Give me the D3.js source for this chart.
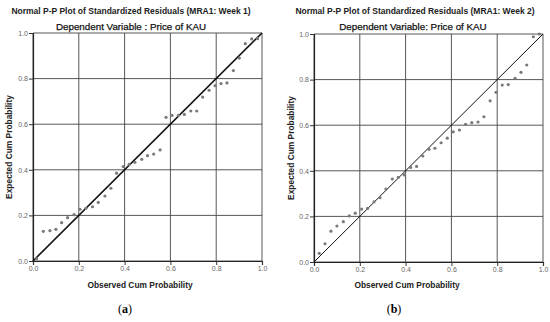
<!DOCTYPE html>
<html lang="en">
<head>
<meta charset="utf-8">
<title>P-P plots</title>
<script src="https://d3js.org/d3.v7.min.js"></script>
<style>
  body { margin: 0; background: #fff; }
  svg { display: block; }
  .tick text { font-family: "Liberation Sans", Arial, sans-serif; font-size: 7px; fill: #666; }
</style>
</head>
<body>
<script>
// tick values shared by both panels
var ticks = [0, 0.2, 0.4, 0.6, 0.8, 1.0];

// panel (a): observed / expected cum probability
var obsA = [0.016,0.045,0.074,0.100,0.125,0.151,0.179,0.205,0.231,0.260,0.285,0.314,0.340,0.365,0.394,0.420,0.445,0.475,0.500,0.527,0.555,0.581,0.607,0.635,0.661,0.689,0.715,0.741,0.769,0.795,0.821,0.847,0.875,0.901,0.927,0.955,0.981];
var expA = [0.010,0.130,0.133,0.139,0.168,0.190,0.203,0.227,0.231,0.238,0.257,0.285,0.319,0.385,0.414,0.424,0.433,0.446,0.462,0.469,0.487,0.630,0.639,0.639,0.643,0.658,0.658,0.719,0.749,0.769,0.778,0.781,0.835,0.890,0.953,0.974,0.975];

// panel (b)
var obsB = [0.023,0.048,0.074,0.100,0.128,0.154,0.180,0.208,0.234,0.262,0.288,0.314,0.342,0.368,0.394,0.422,0.448,0.475,0.502,0.528,0.555,0.582,0.608,0.635,0.662,0.689,0.716,0.742,0.769,0.795,0.822,0.848,0.878,0.904,0.929,0.958,0.984];
var expB = [0.038,0.080,0.135,0.158,0.177,0.202,0.214,0.232,0.235,0.264,0.282,0.320,0.364,0.371,0.382,0.415,0.419,0.465,0.494,0.499,0.523,0.543,0.571,0.579,0.604,0.611,0.614,0.637,0.707,0.744,0.776,0.778,0.806,0.832,0.864,0.988,1.000];

var titles = ["Normal P-P Plot of Standardized Residuals (MRA1: Week 1)",
              "Normal P-P Plot of Standardized Residuals (MRA1: Week 2)"];
var subtitles = ["Dependent Variable : Price of KAU", "Dependent Variable: Price of KAU"];
var letters = ["a", "b"];

var svg = d3.select("body").append("svg")
    .attr("width", 550).attr("height", 322);

var font = "'Liberation Sans', Arial, sans-serif";

function panel(cfg) {
  var x = d3.scaleLinear().domain([0, 1]).range([cfg.x0, cfg.x1]);
  var y = d3.scaleLinear().domain([0, 1]).range([cfg.y0, cfg.y1]);
  var g = svg.append("g");

  // grid lines
  g.selectAll(".gx").data(ticks).enter().append("line")
    .attr("x1", d => x(d)).attr("x2", d => x(d))
    .attr("y1", y(0)).attr("y2", y(1))
    .attr("stroke", "#444").attr("stroke-width", 0.9);
  g.selectAll(".gy").data(ticks).enter().append("line")
    .attr("y1", d => y(d)).attr("y2", d => y(d))
    .attr("x1", x(0)).attr("x2", x(1))
    .attr("stroke", "#444").attr("stroke-width", 0.9);

  // axes
  var ax = g.append("g").attr("transform", "translate(0," + y(0) + ")")
    .call(d3.axisBottom(x).tickValues(ticks).tickFormat(d3.format(".1f")).tickSize(4).tickPadding(1));
  var ay = g.append("g").attr("transform", "translate(" + x(0) + ",0)")
    .call(d3.axisLeft(y).tickValues(ticks).tickFormat(d3.format(".1f")).tickSize(4).tickPadding(1));
  [ax, ay].forEach(function (a) {
    a.select(".domain").attr("stroke", "#222").attr("stroke-width", 1.2);
    a.selectAll(".tick line").attr("stroke", "#333");
  });

  // reference line
  g.append("line")
    .attr("x1", x(0)).attr("y1", y(0)).attr("x2", x(1)).attr("y2", y(1))
    .attr("stroke", "#111").attr("stroke-width", cfg.lw);

  // points
  g.selectAll("circle").data(cfg.obs).enter().append("circle")
    .attr("cx", d => x(d))
    .attr("cy", (d, i) => y(cfg.exp[i]))
    .attr("r", 1.6)
    .attr("fill", "#7a7a7a");

  // titles
  g.append("text").attr("x", cfg.tx).attr("y", 14)
    .attr("text-anchor", "middle").attr("font-family", font)
    .attr("font-size", "8.5px").attr("font-weight", "bold").attr("fill", "#222")
    .text(cfg.title);
  g.append("text").attr("x", cfg.sx).attr("y", 29.5)
    .attr("text-anchor", "middle").attr("font-family", font)
    .attr("font-size", "9.8px").attr("fill", "#111")
    .attr("stroke", "#111").attr("stroke-width", 0.25)
    .text(cfg.sub);

  // axis labels
  g.append("text").attr("x", cfg.lx).attr("y", 288)
    .attr("text-anchor", "middle").attr("font-family", font)
    .attr("font-size", "8.4px").attr("font-weight", "bold").attr("fill", "#222")
    .text("Observed Cum Probability");
  g.append("text")
    .attr("transform", "translate(" + cfg.ylx + "," + (y(0.5)) + ") rotate(-90)")
    .attr("text-anchor", "middle").attr("font-family", font)
    .attr("font-size", "8.4px").attr("font-weight", "bold").attr("fill", "#222")
    .text("Expected Cum Probability");

  // panel letter
  var t = g.append("text").attr("x", cfg.ax).attr("y", 313)
    .attr("text-anchor", "middle").attr("font-family", "'Liberation Serif', 'Times New Roman', serif")
    .attr("font-size", "12px").attr("fill", "#000");
  t.append("tspan").text("(");
  t.append("tspan").attr("font-weight", "bold").text(cfg.letter);
  t.append("tspan").text(")");
}

panel({x0: 33, x1: 262, y0: 261, y1: 33, obs: obsA, exp: expA, lw: 1.6,
       title: titles[0], sub: subtitles[0], letter: letters[0],
       tx: 131, sx: 131, lx: 140, ylx: 12, ax: 125});
panel({x0: 314, x1: 543, y0: 262, y1: 34, obs: obsB, exp: expB, lw: 1,
       title: titles[1], sub: subtitles[1], letter: letters[1],
       tx: 415, sx: 413, lx: 407, ylx: 294, ax: 394});
</script>
</body>
</html>
